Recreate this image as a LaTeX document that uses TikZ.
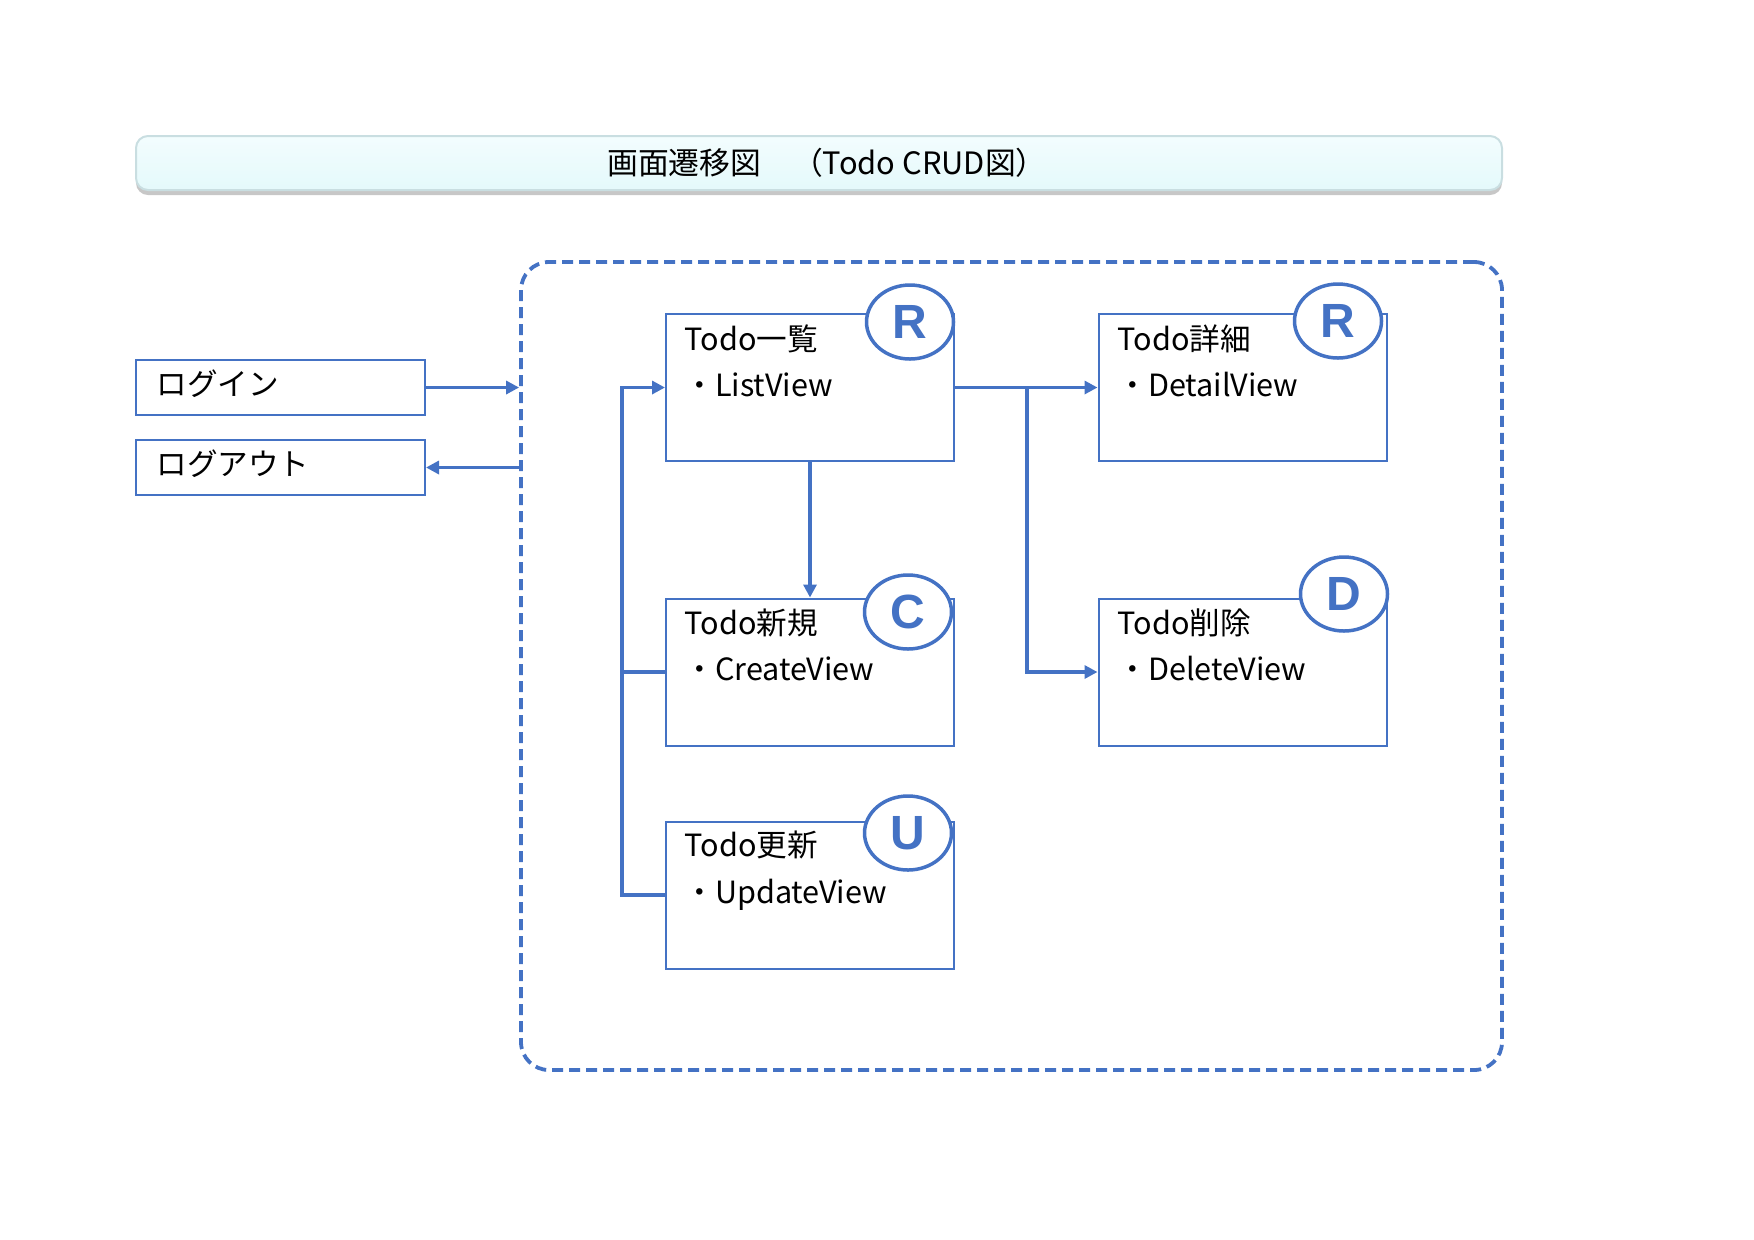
\documentclass[tikz,border=0pt]{standalone}
\usepackage{fontspec}
\setmainfont{Noto Sans CJK JP}
\newfontfamily\letterfont{Liberation Sans}
\usetikzlibrary{arrows.meta,shapes.geometric,shadows}
\definecolor{mblue}{HTML}{4472C4}
\definecolor{tborder}{HTML}{C9DEE1}
\definecolor{ttop}{HTML}{F3FDFE}
\definecolor{tbot}{HTML}{E4F9FB}
\tikzset{
  viewbox/.style={draw=mblue, line width=1pt, rectangle, minimum width=144pt, minimum height=73.5pt, inner sep=0pt},
  navbox/.style={draw=mblue, line width=1pt, rectangle, minimum width=144.5pt, minimum height=27.5pt, inner sep=0pt},
  crud/.style={ellipse, draw=mblue, line width=1.75pt, fill=white, minimum width=43.5pt, minimum height=37pt, inner sep=0pt, text=mblue, font={\letterfont\bfseries\fontsize{24pt}{24pt}\selectfont}},
  lbl/.style={anchor=west, inner sep=0pt, font={\fontsize{15.3pt}{18pt}\selectfont}},
  conn/.style={draw=mblue, line width=1.9pt},
  arr/.style={conn, -{Triangle[length=6.5pt,width=6.5pt]}},
}
\begin{document}
\begin{tikzpicture}[x=0.5pt,y=-0.5pt]
\useasboundingbox (0,0) rectangle (1754,1239);
% title
\node[draw=tborder, line width=1pt, rounded corners=6pt, top color=ttop, bottom color=tbot,
      minimum width=683pt, minimum height=27pt, inner sep=0pt,
      drop shadow={shadow xshift=0pt, shadow yshift=-2.5pt, fill=black!40, opacity=0.55}] (title) at (819,163) {};
\node[font={\fontsize{15.4pt}{18pt}\selectfont}, inner sep=0pt] (titletxt) at (827,163) {画面遷移図　（Todo CRUD図）};
% container
\node[draw=mblue, line width=1.9pt, dash pattern=on 5.5pt off 3pt, rounded corners=14pt,
      minimum width=490.5pt, minimum height=404pt, inner sep=0pt] (group) at (1011.5,666) {};
% nav boxes
\node[navbox] (login) at (280.5,387.5) {};
\node[navbox] (logout) at (280.5,467.5) {};
\node[lbl] (logintxt) at (156,384) {ログイン};
\node[lbl] (logouttxt) at (156,464) {ログアウト};
% view boxes
\node[viewbox] (list) at (810,387.5) {};
\node[viewbox] (detail) at (1242.5,387.5) {};
\node[viewbox] (create) at (810,672) {};
\node[viewbox] (delete) at (1242.5,672) {};
\node[viewbox] (update) at (810,895) {};
% labels
\node[lbl] (listt1) at (684,339) {Todo一覧};
\node[lbl] (listt2) at (684,385) {・ListView};
\node[lbl] (detailt1) at (1117,339) {Todo詳細};
\node[lbl] (detailt2) at (1117,385) {・DetailView};
\node[lbl] (createt1) at (684,623) {Todo新規};
\node[lbl] (createt2) at (684,669) {・CreateView};
\node[lbl] (deletet1) at (1117,623) {Todo削除};
\node[lbl] (deletet2) at (1117,669) {・DeleteView};
\node[lbl] (updatet1) at (684,845) {Todo更新};
\node[lbl] (updatet2) at (684,895) {・UpdateView};
% connectors
\coordinate (loopx) at (622,0);
\coordinate (branch) at (1027,387.5);
\draw[arr] (login.east) -- (login.east -| group.west);
\draw[arr] (logout.east -| group.west) -- (logout.east);
\draw[arr] (update.west) -- (update.west -| loopx) |- (list.west);
\draw[conn] (create.west) -- (create.west -| loopx);
\draw[arr] (list.east) -- (detail.west);
\draw[arr] (branch) |- (delete.west);
\draw[arr] (list.south) -- (create.north);
% CRUD marks
\node[crud] (mr1) at (910,322) {R};
\node[crud] (mr2) at (1338,321) {R};
\node[crud] (mc) at (908,612) {C};
\node[crud] (md) at (1344,594) {D};
\node[crud] (mu) at (908,833) {U};
\end{tikzpicture}
\end{document}
